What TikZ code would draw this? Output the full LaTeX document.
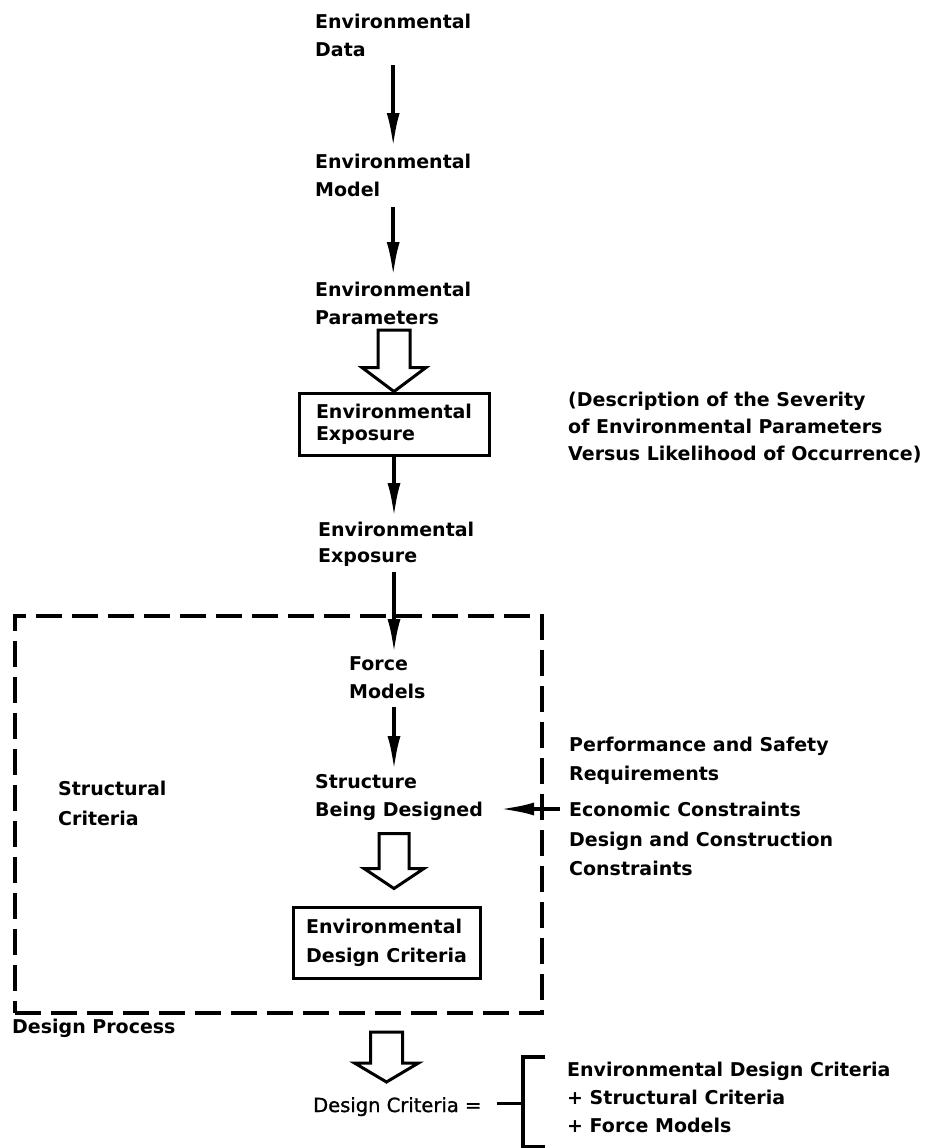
\documentclass[tikz,border=0pt]{standalone}
\usepackage{fontspec}
\setmainfont{DejaVu Sans}
\newfontfamily\medfont{DejaVu Sans}[FakeBold=1.2]
\usepackage{tikz}
\usetikzlibrary{arrows.meta,calc,positioning}

\tikzset{
  lbl/.style={inner sep=0pt, anchor=north west, align=left, font=\fontsize{19}{28}\selectfont\bfseries},
  blk/.style={draw, line width=3pt, inner sep=0pt, align=left, font=\fontsize{19}{25}\selectfont\bfseries},
  arr/.style={line width=3.5pt, -{Latex[length=34pt,width=13pt]}},
  hollow/.style={draw, line width=3pt, line join=miter},
  frame/.style={draw, line width=4pt, dash pattern=on 26pt off 10pt, inner sep=0pt},
  brk/.style={line width=3.5pt}
}

% hollow block arrow from #1 (top of shaft) to #2 (tip)
\newcommand{\fatarrow}[4]{%
  \draw[hollow] let \p1=(#1), \p2=(#2) in
    (\x2-#3pt,\y1) -- (\x2-#3pt,\y2+#4pt) -- (\x2-2*#3pt,\y2+#4pt) -- (\x2,\y2)
    -- (\x2+2*#3pt,\y2+#4pt) -- (\x2+#3pt,\y2+#4pt) -- (\x2+#3pt,\y1) -- cycle;}

\begin{document}
\begin{tikzpicture}[x=1pt,y=-1pt]
\useasboundingbox (0,0) rectangle (932,1148);

\node[lbl] (data) at (315,14) {Environmental\\Data};
\node[lbl] (model) at (315,154) {Environmental\\Model};
\node[lbl] (params) at (315,282) {Environmental\\Parameters};
\node[blk, minimum width=190pt, minimum height=62pt] (expbox) at (394,424) {Environmental\\[-3pt]Exposure};
\node[lbl, font=\fontsize{19}{27}\selectfont\bfseries] (descr) at (568,392) {(Description of the Severity\\of Environmental Parameters\\Versus Likelihood of Occurrence)};
\node[lbl, font=\fontsize{19}{26}\selectfont\bfseries] (exposure) at (318,522) {Environmental\\Exposure};

% design process
\node[frame, minimum width=527pt, minimum height=397pt] (process) at (278.5,814.5) {};
\node[lbl] (processlbl) at (12,1019) {Design Process};
\node[lbl] (force) at (349,656) {Force\\Models};
\node[lbl] (structure) at (315,774) {Structure\\Being Designed};
\node[lbl, font=\fontsize{19}{30}\selectfont\bfseries] (structural) at (58,781) {Structural\\Criteria};
\node[blk, minimum width=187pt, minimum height=71pt, font=\fontsize{19}{29}\selectfont\bfseries] (critbox) at (386.5,942.5) {Environmental\\Design Criteria};
\node[lbl, font=\fontsize{19}{29}\selectfont\bfseries] (perf) at (569,737) {Performance and Safety\\Requirements};
\node[lbl, font=\fontsize{19}{29.5}\selectfont\bfseries] (econ) at (569,802) {Economic Constraints\\Design and Construction\\Constraints};

% result
\node[lbl, font=\fontsize{19.5}{28}\selectfont\medfont] (designcrit) at (313,1097) {Design Criteria =};
\node[lbl] (sum) at (567,1062) {Environmental Design Criteria\\+ Structural Criteria\\+ Force Models};

\draw[arr] ([yshift=-8pt]data.south) -- ([yshift=7pt]data.south |- model.north);
\draw[arr] ([yshift=-10pt]model.south) -- ([yshift=6pt]model.south |- params.north);
\fatarrow{[yshift=-5pt]params.south}{expbox.north}{16}{24}
\draw[arr] (expbox.south) -- ([yshift=5pt]expbox.south |- exposure.north);
\draw[arr] ([yshift=-5pt]expbox.south |- exposure.south) -- ([yshift=3pt]expbox.south |- force.north);
\draw[arr] ([yshift=-8pt]expbox.south |- force.south) -- ([yshift=4pt]expbox.south |- structure.north);
\coordinate (feed) at ([xshift=-9pt,yshift=-7pt]econ.north west);
\draw[arr] (feed) -- ([xshift=17pt]feed -| structure.east);
\fatarrow{[yshift=-13pt]structure.south -| expbox.south}{[yshift=17pt]critbox.north -| expbox.south}{15}{20}
\fatarrow{[yshift=-17pt]process.south -| critbox.north}{[yshift=15pt]critbox.north |- designcrit.north}{16}{19}

\draw[brk] ([xshift=-22pt,yshift=5pt]sum.north west) -- ++(-22,0) |- ++(22,90);
\draw[brk] ([xshift=15pt,yshift=3pt]designcrit.east) -- ([xshift=-44pt,yshift=3pt]designcrit.east -| sum.west);

\end{tikzpicture}
\end{document}
